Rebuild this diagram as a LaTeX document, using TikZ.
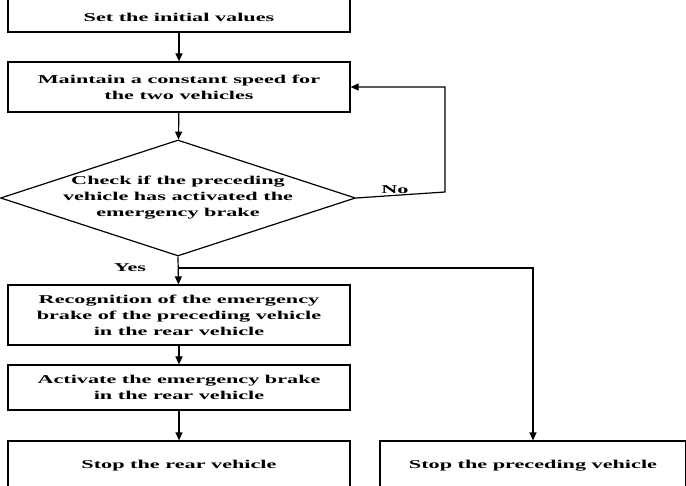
\documentclass[tikz,border=0pt]{standalone}
\usepackage{fontspec}
\setmainfont[FakeStretch=1.85]{Liberation Serif}
\usetikzlibrary{arrows.meta}
\usetikzlibrary{shapes.geometric}
\begin{document}
\begin{tikzpicture}[x=1pt,y=-1pt,line width=1.2pt,>={Triangle[length=8pt,width=7pt]},
    every node/.style={font=\bfseries\fontsize{12}{16}\selectfont,align=center},
    box/.style={draw,minimum width=342pt,inner sep=0pt}]
    \useasboundingbox (0,0) rectangle (686,486);
    % boxes
    \node[box,minimum height=40pt] (init) at (179,12) {\raisebox{-20pt}{Set the initial values}};
    \node[box,minimum height=50pt] (keep) at (179,87) {Maintain a constant speed for\\the two vehicles};
    \node[diamond,draw,aspect=3.05,inner sep=1pt,minimum width=355pt,minimum height=116pt] (check) at (178,198) {};
    \node at (178,198) {Check if the preceding\\vehicle has activated the\\emergency brake};
    \node[box,minimum height=60pt] (recog) at (179,315) {Recognition of the emergency\\brake of the preceding vehicle\\in the rear vehicle};
    \node[box,minimum height=45pt] (brake) at (179,387.5) {Activate the emergency brake\\in the rear vehicle};
    \node[box,minimum height=50pt] (rear) at (179,466) {Stop the rear vehicle};
    \node[draw,minimum width=306pt,minimum height=50pt] (front) at (533,466) {Stop the preceding vehicle};
    \coordinate (nobend) at (445,192);
    \coordinate (yes) at (178,268);
    % connectors
    \draw[->] (init) -- (keep);
    \draw[->] (keep) -- (check);
    \draw[->] (check.east) -- (nobend) |- (keep.east);
    \node at (395,190) {No};
    \draw[->] (check.south) -- (recog);
    \node at (130,268) {Yes};
    \draw[->] (yes) -| (front.north);
    \draw[->] (recog) -- (brake);
    \draw[->] (brake) -- (rear);
\end{tikzpicture}
\end{document}
